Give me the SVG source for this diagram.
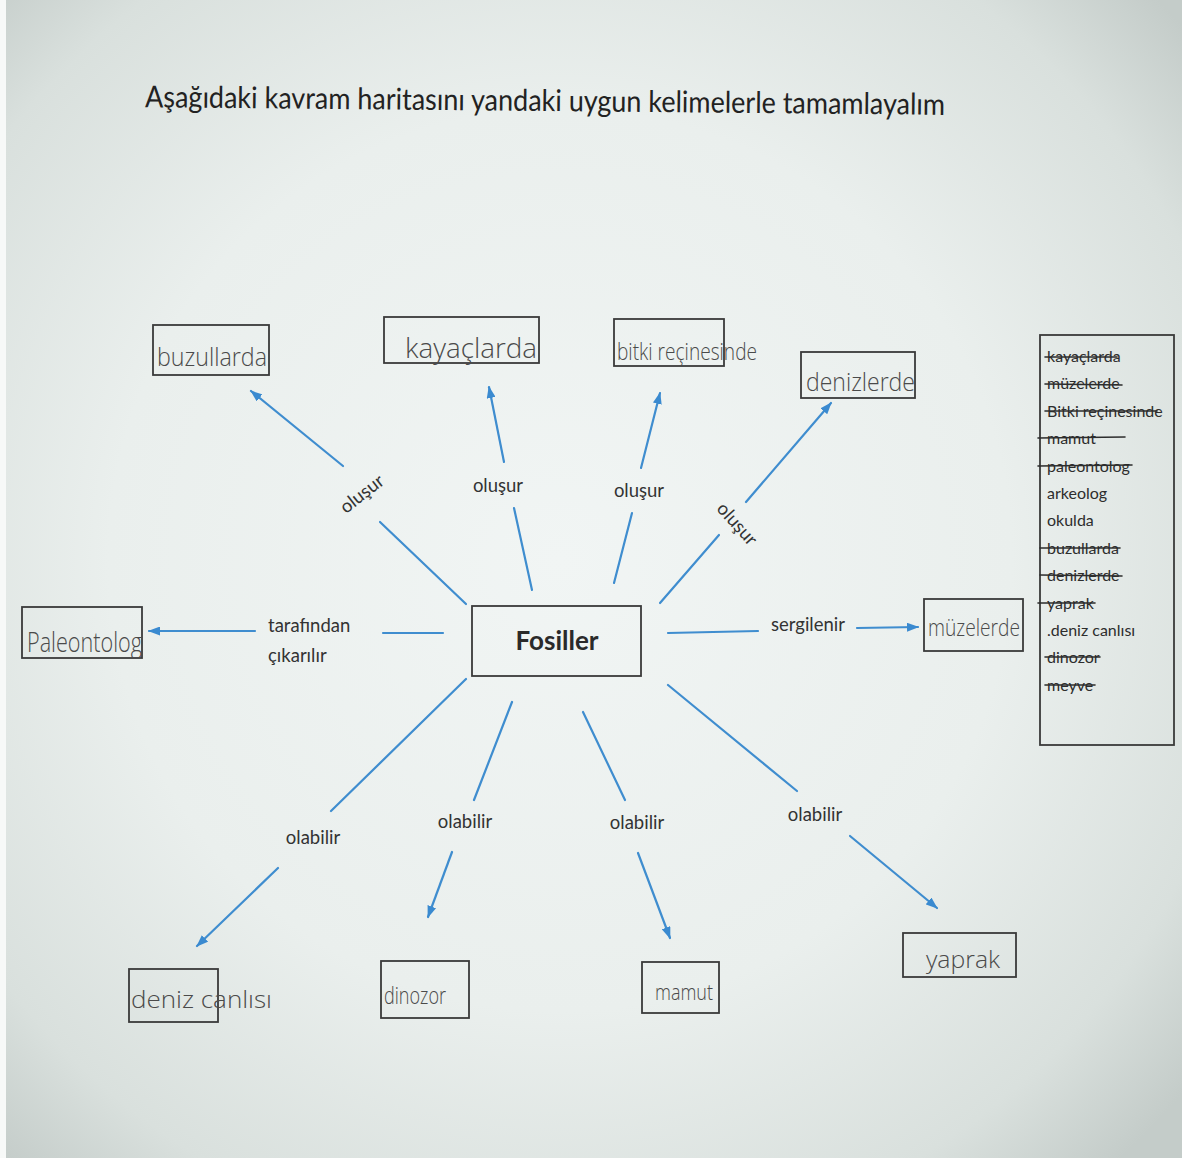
<svg xmlns="http://www.w3.org/2000/svg" width="1182" height="1158" viewBox="0 0 1182 1158">
<defs>
<radialGradient id="bg" cx="560" cy="560" r="820" gradientUnits="userSpaceOnUse">
<stop offset="0" stop-color="#f1f5f4"/>
<stop offset="0.55" stop-color="#eaefed"/>
<stop offset="0.85" stop-color="#d9e0dd"/>
<stop offset="1" stop-color="#c4ccc9"/>
</radialGradient>
<marker id="ah" viewBox="0 0 12 9" refX="11" refY="4.5" markerWidth="12" markerHeight="9" markerUnits="userSpaceOnUse" orient="auto">
<path d="M0,0 L12,4.5 L0,9 z" fill="#3a8ad0"/>
</marker>
<style>
.con{stroke:#3f8dcf;stroke-width:2.2;fill:none;stroke-linecap:round}
.arr{marker-end:url(#ah)}
.box{fill:none;stroke:#3a3a3a;stroke-width:1.8}
.lbl{font-family:Lato,"Open Sans","Liberation Sans",sans-serif;font-size:18.5px;fill:#333}
.hw{font-family:"Open Sans","DejaVu Sans",sans-serif;font-weight:300;fill:#4a4a4a}
.lst{font-family:Lato,"Open Sans","Liberation Sans",sans-serif;font-size:16px;fill:#2d2d2d}
.strk{stroke:#2d2d2d;stroke-width:1.6;stroke-linecap:round}
</style>
</defs>
<rect x="0" y="0" width="1182" height="1158" fill="url(#bg)"/>
<rect x="0" y="0" width="6" height="1158" fill="#f7f9f8"/>

<g id="title">
<text x="145" y="111" transform="rotate(0.55 545 111)" textLength="800" lengthAdjust="spacingAndGlyphs" style="font-family:Lato,'Open Sans','Liberation Sans',sans-serif;font-size:30px;fill:#222">Aşağıdaki kavram haritasını yandaki uygun kelimelerle tamamlayalım</text>
</g>

<g id="connectors">
<line class="con" x1="466" y1="604" x2="380" y2="522"/>
<line class="con arr" x1="343" y1="466" x2="251" y2="391"/>
<line class="con" x1="532" y1="590" x2="514" y2="508"/>
<line class="con arr" x1="504" y1="462" x2="489" y2="387"/>
<line class="con" x1="614" y1="583" x2="632" y2="513"/>
<line class="con arr" x1="641" y1="468" x2="660" y2="393"/>
<line class="con" x1="660" y1="603" x2="719" y2="535"/>
<line class="con arr" x1="746" y1="502" x2="831" y2="403"/>
<line class="con" x1="443" y1="633" x2="383" y2="633"/>
<line class="con arr" x1="255" y1="631" x2="149" y2="631"/>
<line class="con" x1="668" y1="633" x2="758" y2="631"/>
<line class="con arr" x1="857" y1="628" x2="918" y2="627"/>
<line class="con" x1="466" y1="679" x2="331" y2="811"/>
<line class="con arr" x1="278" y1="868" x2="197" y2="946"/>
<line class="con" x1="512" y1="702" x2="474" y2="800"/>
<line class="con arr" x1="452" y1="852" x2="428" y2="917"/>
<line class="con" x1="583" y1="712" x2="625" y2="800"/>
<line class="con arr" x1="638" y1="853" x2="670" y2="938"/>
<line class="con" x1="668" y1="685" x2="797" y2="791"/>
<line class="con arr" x1="850" y1="836" x2="937" y2="908"/>
</g>

<g id="labels">
<text class="lbl" x="362" y="500" text-anchor="middle" transform="rotate(-38 362 494)">oluşur</text>
<text class="lbl" x="498" y="492" text-anchor="middle">oluşur</text>
<text class="lbl" x="639" y="497" text-anchor="middle">oluşur</text>
<text class="lbl" x="737" y="530" text-anchor="middle" transform="rotate(48 737 524)">oluşur</text>
<text class="lbl" x="268" y="632">tarafından</text>
<text class="lbl" x="268" y="662">çıkarılır</text>
<text class="lbl" x="771" y="631">sergilenir</text>
<text class="lbl" x="313" y="844" text-anchor="middle">olabilir</text>
<text class="lbl" x="465" y="828" text-anchor="middle">olabilir</text>
<text class="lbl" x="637" y="829" text-anchor="middle">olabilir</text>
<text class="lbl" x="815" y="821" text-anchor="middle">olabilir</text>
</g>

<g id="fosiller">
<rect class="box" x="472" y="606" width="169" height="70"/>
<text x="557" y="650" text-anchor="middle" style="font-family:Lato,'Open Sans','Liberation Sans',sans-serif;font-weight:bold;font-size:26px;fill:#2a2a2a">Fosiller</text>
</g>

<g id="buzullarda">
<rect class="box" x="153" y="325" width="116" height="50"/>
<text class="hw" x="157" y="366" font-size="26" textLength="110" lengthAdjust="spacingAndGlyphs">buzullarda</text>
</g>
<g id="kayaclarda">
<rect class="box" x="384" y="317" width="155" height="46"/>
<text class="hw" x="405" y="358" font-size="28" textLength="132" lengthAdjust="spacingAndGlyphs">kayaçlarda</text>
</g>
<g id="bitki">
<rect class="box" x="614" y="319" width="110" height="47"/>
<text class="hw" x="617" y="360" font-size="24" textLength="140" lengthAdjust="spacingAndGlyphs">bitki reçinesinde</text>
</g>
<g id="denizlerde">
<rect class="box" x="801" y="352" width="114" height="46"/>
<text class="hw" x="806" y="391" font-size="26" textLength="109" lengthAdjust="spacingAndGlyphs">denizlerde</text>
</g>
<g id="paleontolog">
<rect class="box" x="22" y="607" width="120" height="51"/>
<text class="hw" x="27" y="652" font-size="28" textLength="115" lengthAdjust="spacingAndGlyphs">Paleontolog</text>
</g>
<g id="muzelerde">
<rect class="box" x="924" y="599" width="99" height="52"/>
<text class="hw" x="928" y="636" font-size="24" textLength="92" lengthAdjust="spacingAndGlyphs">müzelerde</text>
</g>
<g id="deniz-canlisi">
<rect class="box" x="129" y="969" width="89" height="53"/>
<text class="hw" x="131" y="1008" font-size="24" textLength="141" lengthAdjust="spacingAndGlyphs">deniz canlısı</text>
</g>
<g id="dinozor">
<rect class="box" x="381" y="961" width="88" height="57"/>
<text class="hw" x="384" y="1004" font-size="24" textLength="62" lengthAdjust="spacingAndGlyphs">dinozor</text>
</g>
<g id="mamut">
<rect class="box" x="642" y="962" width="77" height="51"/>
<text class="hw" x="655" y="1000" font-size="22" textLength="58" lengthAdjust="spacingAndGlyphs">mamut</text>
</g>
<g id="yaprak">
<rect class="box" x="903" y="933" width="113" height="44"/>
<text class="hw" x="926" y="968" font-size="24" textLength="74" lengthAdjust="spacingAndGlyphs">yaprak</text>
</g>

<g id="word-list">
<rect class="box" x="1040" y="335" width="134" height="410"/>
<text class="lst" x="1047" y="362">kayaçlarda</text>
<text class="lst" x="1047" y="389">müzelerde</text>
<text class="lst" x="1047" y="417">Bitki reçinesinde</text>
<text class="lst" x="1047" y="444">mamut</text>
<text class="lst" x="1047" y="472">paleontolog</text>
<text class="lst" x="1047" y="499">arkeolog</text>
<text class="lst" x="1047" y="526">okulda</text>
<text class="lst" x="1047" y="554">buzullarda</text>
<text class="lst" x="1047" y="581">denizlerde</text>
<text class="lst" x="1047" y="609">yaprak</text>
<text class="lst" x="1047" y="636">.deniz canlısı</text>
<text class="lst" x="1047" y="663">dinozor</text>
<text class="lst" x="1047" y="691">meyve</text>
<line class="strk" x1="1045" y1="357" x2="1117" y2="357"/>
<line class="strk" x1="1045" y1="384" x2="1122" y2="385"/>
<line class="strk" x1="1045" y1="411" x2="1157" y2="411"/>
<line class="strk" x1="1038" y1="438" x2="1125" y2="437"/>
<line class="strk" x1="1038" y1="466" x2="1132" y2="465"/>
<line class="strk" x1="1040" y1="548" x2="1120" y2="548"/>
<line class="strk" x1="1040" y1="575" x2="1122" y2="576"/>
<line class="strk" x1="1038" y1="603" x2="1095" y2="603"/>
<line class="strk" x1="1045" y1="657" x2="1100" y2="657"/>
<line class="strk" x1="1045" y1="685" x2="1095" y2="685"/>
</g>
</svg>
